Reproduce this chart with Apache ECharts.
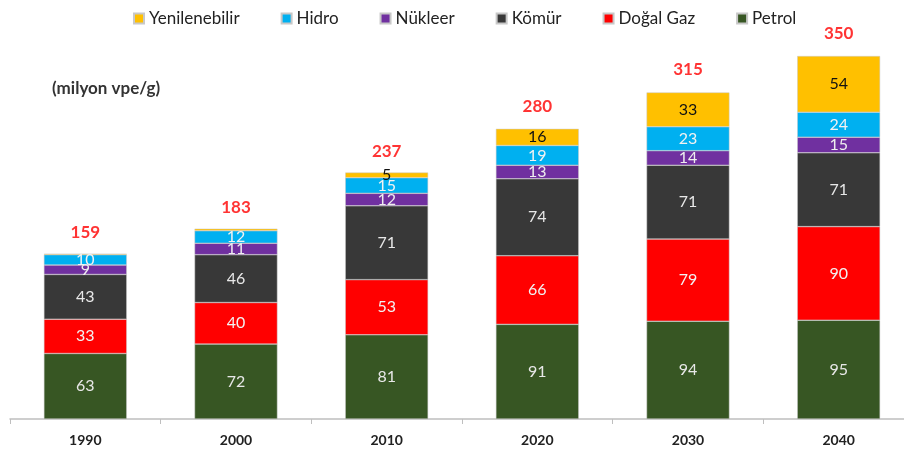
<!DOCTYPE html>
<html>
<head>
<meta charset="utf-8">
<script src="https://cdn.jsdelivr.net/npm/echarts@6/dist/echarts.min.js"></script>
<style>
  html, body { margin: 0; padding: 0; background: #fff; }
  #chart { width: 904px; height: 455px; }
</style>
</head>
<body>
<div id="chart"></div>
<script>
var years = ['1990', '2000', '2010', '2020', '2030', '2040']
var petrol = [63, 72, 81, 91, 94, 95]
var dogalGaz = [33, 40, 53, 66, 79, 90]
var komur = [43, 46, 71, 74, 71, 71]
var nukleer = [9, 11, 12, 13, 14, 15]
var hidro = [10, 12, 15, 19, 23, 24]
var yenilenebilir = [1, 2, 5, 16, 33, 54]
var totals = [159, 183, 237, 280, 315, 350]

var font = 'Lato, "Open Sans", sans-serif'

function makeSeries (name, data, color, labelColor) {
  return {
    name: name,
    type: 'bar',
    stack: 'toplam',
    data: data,
    barCategoryGap: '45%',
    itemStyle: { color: color, borderColor: '#c8c8c8', borderWidth: 0.5 },
    label: {
      show: true,
      position: 'inside',
      color: labelColor,
      fontFamily: font,
      fontSize: 16,
      formatter: function (p) {
        return p.value >= 5 ? p.value : ''
      }
    }
  }
}

var chart = echarts.init(document.getElementById('chart'))
var option = {
  animation: false,
  textStyle: { fontFamily: font },
  legend: {
    data: ['Yenilenebilir', 'Hidro', 'Nükleer', 'Kömür', 'Doğal Gaz', 'Petrol'],
    top: 5,
    left: 128,
    itemWidth: 10,
    itemHeight: 10,
    itemGap: 41,
    icon: 'rect',
    textStyle: { fontSize: 17, color: '#222', fontFamily: font }
  },
  graphic: [{
    type: 'text',
    left: 52,
    top: 80,
    style: { text: '(milyon vpe/g)', font: 'bold 17px ' + font, fill: '#333' }
  }],
  grid: { left: 10, width: 904, top: 3, bottom: 36, outerBoundsMode: 'none', containLabel: false },
  xAxis: {
    type: 'category',
    data: years,
    axisLine: { lineStyle: { color: '#bfbfbf', width: 1.5 } },
    axisTick: { show: true, length: 5, lineStyle: { color: '#bfbfbf' } },
    axisLabel: { color: '#222', fontSize: 14, fontWeight: 'bold', margin: 14, fontFamily: font }
  },
  yAxis: {
    type: 'value',
    min: 0,
    max: 400,
    show: false,
    splitLine: { show: false }
  },
  series: [
    makeSeries('Petrol', petrol, '#375623', '#e8e8e8'),
    makeSeries('Doğal Gaz', dogalGaz, '#ff0000', '#f2f2f2'),
    makeSeries('Kömür', komur, '#383838', '#e8e8e8'),
    makeSeries('Nükleer', nukleer, '#7030a0', '#eeeeee'),
    makeSeries('Hidro', hidro, '#00b0f0', '#f2f2f2'),
    makeSeries('Yenilenebilir', yenilenebilir, '#ffc000', '#111'),
    {
      name: 'Toplam',
      type: 'scatter',
      data: totals,
      symbolSize: 0,
      label: {
        show: true,
        position: 'top',
        distance: 13,
        color: '#ff0000',
        fontWeight: 'bold',
        fontSize: 17,
        fontFamily: font,
        formatter: '{c}'
      }
    }
  ]
}
chart.setOption(option)
</script>
</body>
</html>
